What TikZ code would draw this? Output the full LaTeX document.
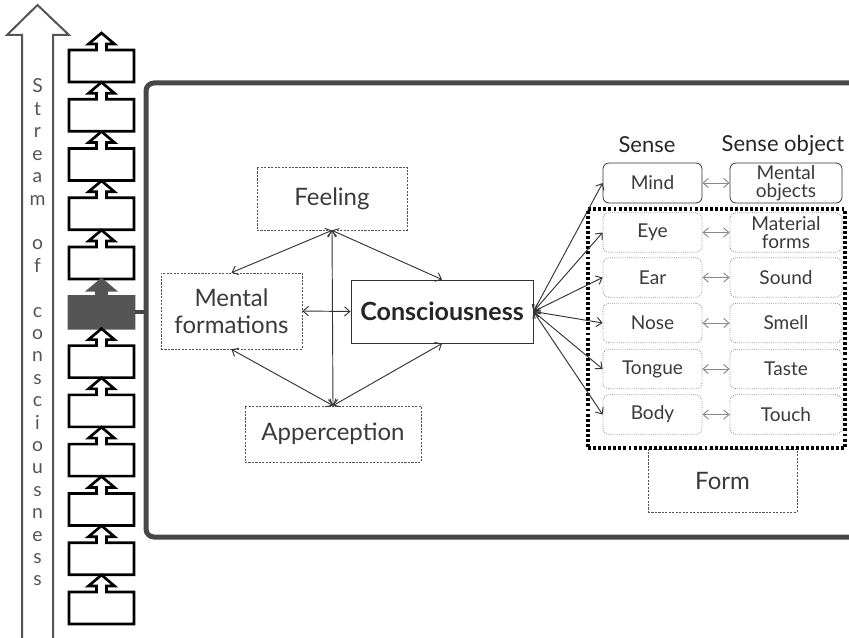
\documentclass[tikz,border=0pt]{standalone}
\usepackage{fontspec}
\setmainfont{Lato}
\usetikzlibrary{arrows.meta}
\definecolor{tx}{HTML}{3A3A3A}
\definecolor{dgray}{HTML}{555555}
\definecolor{lgray}{HTML}{8A8A8A}
\definecolor{frame}{HTML}{474747}
\definecolor{lk}{HTML}{333333}
\tikzset{
  dbox/.style={draw=dgray, line width=0.6pt, dash pattern=on 1.6pt off 1pt, font=\fontsize{18}{20.5}\selectfont, text=tx, align=center, inner sep=0pt},
  sbox/.style={draw=lgray, line width=0.6pt, densely dotted, rounded corners=4.5pt, minimum width=74.25pt, minimum height=29.5pt, font=\fontsize{14.3}{13.8}\selectfont, text=tx, align=center, inner sep=0pt},
  obox/.style={sbox, minimum width=84pt},
  solidb/.style={solid, draw=lk},
  link/.style={draw=lk, line width=0.7pt, {Straight Barb[length=4pt,width=7pt]}-{Straight Barb[length=4pt,width=7pt]}},
  glink/.style={draw=lgray, line width=0.7pt, {Straight Barb[length=4pt,width=7pt]}-{Straight Barb[length=4pt,width=7pt]}},
  hdr/.style={font=\fontsize{16.5}{18}\selectfont, text=black!85, inner sep=0pt},
  letter/.style={font=\fontsize{14.5}{14.5}\selectfont, text=dgray, inner sep=0pt, anchor=base}
}
\begin{document}
\begin{tikzpicture}[x=0.75pt,y=-0.75pt]
\useasboundingbox (0,0) rectangle (849,638);
\clip (0,0) rectangle (849,638);

% stream arrow
\draw[draw=dgray, line width=1.5pt, fill=white, line join=miter]
  (22,640) -- (22,35) -- (7,35) -- (37.5,5) -- (69,35) -- (53,35) -- (53,640) -- cycle;
\foreach \c [count=\i] in {S,t,r,e,a,m,{},o,f,{},c,o,n,s,c,i,o,u,s,n,e,s,s}
  \node[letter] (s\i) at (37.5,{93+22.4*(\i-1)}) {\c};

% blocks
\foreach \k in {0,...,11}{
  \pgfmathsetmacro{\t}{50+49.27*\k}
  \ifnum\k=5
    \def\bfill{dgray}\def\bdraw{dgray}
  \else
    \def\bfill{white}\def\bdraw{black}
  \fi
  \draw[draw=\bdraw, fill=\bfill, line width=2pt, line join=miter]
    (69,\t) -- (96.5,\t) -- (96.5,{\t-6}) -- (88.5,{\t-6}) -- (101.5,{\t-17}) -- (114.5,{\t-6}) -- (106.5,{\t-6}) -- (106.5,\t) -- (134,\t) -- (134,{\t+32}) -- (69,{\t+32}) -- cycle;
}

% big frame
\draw[draw=frame, line width=3.75pt, rounded corners=6pt] (880,83) -- (146,83) -- (146,537) -- (880,537);
\coordinate (dk) at (135,312);
\coordinate (bb) at (146,312);
\draw[draw=frame, line width=2.5pt] (dk) -- (bb);

% khandhas
\node[dbox, minimum width=112.5pt, minimum height=47.25pt] (feel) at (332,198.5) {Feeling};
\node[dbox, minimum width=105.75pt, minimum height=57pt] (mf) at (231.5,311) {Mental\\formations};
\node[draw=lk, line width=0.7pt, minimum width=136.5pt, minimum height=47.25pt, inner sep=0pt, font=\fontsize{18.8}{20}\selectfont\bfseries, text=black!85] (con) at (442,311.5) {Consciousness};
\node[dbox, minimum width=132pt, minimum height=42pt] (app) at (333,434) {Apperception};
\node[dbox, minimum width=111.75pt, minimum height=47.25pt] (form) at (722.5,480.5) {Form};

\draw[link] (feel.south) -- (mf.north);
\draw[link] (feel.south) -- (con.north);
\draw[link] (feel.south) -- (app.north);
\draw[link] (mf.south) -- (app.north);
\draw[link] (con.south) -- (app.north);
\draw[link] (mf.east) -- (con.west);

% senses
\node[hdr] (h1) at (647,145) {Sense};
\node[hdr] (h2) at (783,145) {Sense object};

\node[draw=black, line width=2.4pt, dash pattern=on 2.2pt off 1.6pt, minimum width=192.75pt, minimum height=179.25pt, inner sep=0pt] (grp) at (716.5,328.5) {};

\node[sbox, solidb, minimum height=30pt] (mind) at (652.5,183) {Mind};
\node[obox, solidb, minimum height=30pt] (mobj) at (786,183) {Mental\\objects};
\node[sbox] (eye) at (652.5,232.5) {Eye};
\node[obox] (mat) at (786,232.5) {Material\\forms};
\node[sbox] (ear) at (652.5,277.5) {Ear};
\node[obox] (snd) at (786,277.5) {Sound};
\node[sbox] (nose) at (652.5,323) {Nose};
\node[obox] (sml) at (786,323) {Smell};
\node[sbox] (tong) at (652.5,369) {Tongue};
\node[obox] (tst) at (786,369) {Taste};
\node[sbox] (body) at (652.5,414.5) {Body};
\node[obox] (tch) at (786,414.5) {Touch};

\foreach \a/\b in {mind/mobj,eye/mat,ear/snd,nose/sml,tong/tst,body/tch}
  \draw[glink] (\a.east) -- (\b.west);
\foreach \a in {mind,eye,ear,nose,tong,body}
  \draw[link] (con.east) -- (\a.west);
\end{tikzpicture}
\end{document}
